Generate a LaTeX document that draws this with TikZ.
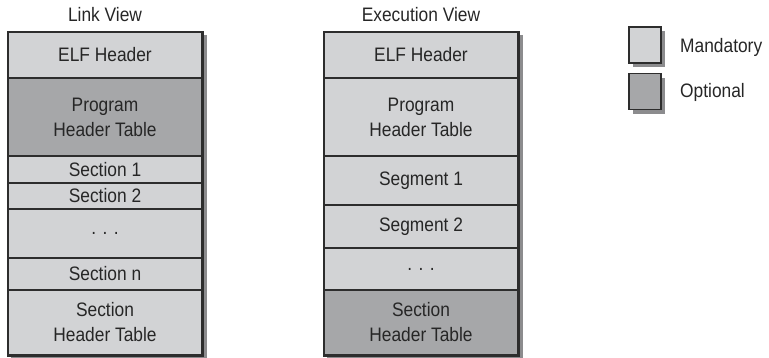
\documentclass[tikz,border=0pt]{standalone}
\usepackage{fontspec}
\setmainfont{Liberation Sans}[FakeStretch=0.89]
\usetikzlibrary{backgrounds,shadows}

\definecolor{mandfill}{RGB}{210,211,213}
\definecolor{optfill}{RGB}{166,167,169}
\definecolor{shadegray}{RGB}{140,140,142}
\definecolor{edgegray}{RGB}{45,45,45}

\tikzset{
  cell/.style={draw=edgegray, line width=1.3pt, inner sep=0pt, minimum width=194pt,
    align=center, font=\fontsize{19.5}{25}\selectfont, text=black!85},
  mand/.style={cell, fill=mandfill},
  opt/.style={cell, fill=optfill},
  title/.style={font=\fontsize{19.5}{25}\selectfont, text=black!85, inner sep=0pt},
  legendbox/.style={draw=edgegray, line width=1.3pt, inner sep=0pt,
    minimum width=32pt, minimum height=36pt,
    drop shadow={shadow xshift=4pt, shadow yshift=-4pt, fill=shadegray, opacity=1}},
}

\begin{document}
\begin{tikzpicture}[x=1pt, y=-1pt]

  %% ---- Link View ----
  \node[title] (ltitle) at (105,15) {Link View};
  \node[mand, minimum height=46pt] (lelf)  at (105,55)    {ELF Header};
  \node[opt,  minimum height=78pt] (lpht)  at (105,117)   {Program\\Header Table};
  \node[mand, minimum height=27pt] (lsec1) at (105,169.5) {Section 1};
  \node[mand, minimum height=26pt] (lsec2) at (105,196)   {Section 2};
  \node[mand, minimum height=49pt] (ldots) at (105,233.5) {. . .};
  \node[mand, minimum height=32pt] (lsecn) at (105,274)   {Section n};
  \node[mand, minimum height=65pt] (lsht)  at (105,322.5) {Section\\Header Table};

  %% ---- Execution View ----
  \node[title] (etitle) at (421,15) {Execution View};
  \node[mand, minimum height=46pt] (eelf)  at (421,55)    {ELF Header};
  \node[mand, minimum height=78pt] (epht)  at (421,117)   {Program\\Header Table};
  \node[mand, minimum height=49pt] (eseg1) at (421,180.5) {Segment 1};
  \node[mand, minimum height=43pt] (eseg2) at (421,226.5) {Segment 2};
  \node[mand, minimum height=42pt] (edots) at (421,269)   {. . .};
  \node[opt,  minimum height=65pt] (esht)  at (421,322.5) {Section\\Header Table};

  %% outer frames and shadows
  \draw[edgegray, line width=1.7pt] (lelf.north west) rectangle (lsht.south east);
  \draw[edgegray, line width=1.7pt] (eelf.north west) rectangle (esht.south east);
  \begin{scope}[on background layer]
    \fill[shadegray] ([xshift=4pt,yshift=-4pt]lelf.north west) rectangle ([xshift=4pt,yshift=-4pt]lsht.south east);
    \fill[shadegray] ([xshift=4pt,yshift=-4pt]eelf.north west) rectangle ([xshift=4pt,yshift=-4pt]esht.south east);
  \end{scope}

  %% ---- legend ----
  \node[legendbox, fill=mandfill] (kmand) at (645,45) {};
  \node[legendbox, fill=optfill]  (kopt)  at (645,91.5) {};
  \node[title, anchor=west] (kmandlbl) at (680,47) {Mandatory};
  \node[title, anchor=west] (koptlbl)  at (680,92) {Optional};

  \pgfresetboundingbox
  \path[use as bounding box] (0,0) rectangle (769,357);
\end{tikzpicture}
\end{document}
